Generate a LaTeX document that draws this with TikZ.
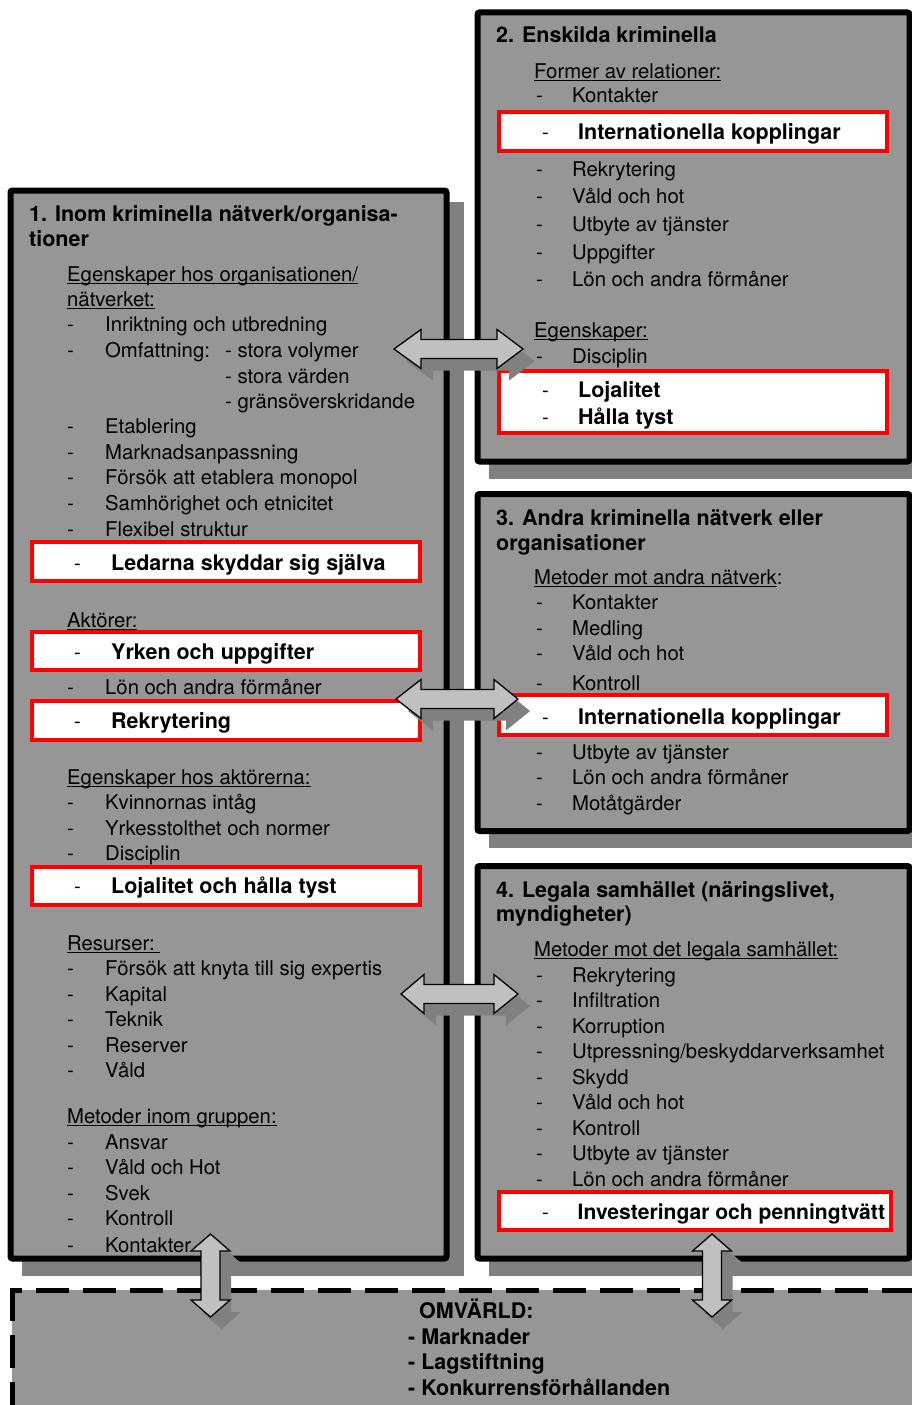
\documentclass[tikz,border=0pt]{standalone}
\usepackage{fontspec}
\setmainfont{TeX Gyre Heros}
\definecolor{boxgray}{RGB}{150,150,150}
\definecolor{shadowgray}{RGB}{128,128,128}
\definecolor{arrowgray}{RGB}{192,192,192}
\definecolor{redline}{RGB}{255,0,0}
\newcommand\ulx[1]{\setbox0\hbox{#1}\rlap{\raisebox{-2.8pt}{\rule{\wd0}{1.3pt}}}\box0}
\newcommand\ent[5]{\node[txt] (#1d) at (#2,#4) {-}; \node[txt] (#1) at (#3,#4) {#5};}
\newcommand\bent[5]{\node[txt] (#1d) at (#2,#4) {-}; \node[btxt] (#1) at (#3,#4) {#5};}
\newcommand\harrow[6]{\path[#1] (#2,#6) -- (#3,#6-19.5) -- (#3,#6-9.5) -- (#4,#6-9.5) -- (#4,#6-19.5) -- (#5,#6) -- (#4,#6+19.5) -- (#4,#6+9.5) -- (#3,#6+9.5) -- (#3,#6+19.5) -- cycle;}
\newcommand\varrow[6]{\path[#1] (#2,#3) -- (#2+19.5,#4) -- (#2+9.5,#4) -- (#2+9.5,#5) -- (#2+19.5,#5) -- (#2,#6) -- (#2-19.5,#5) -- (#2-9.5,#5) -- (#2-9.5,#4) -- (#2-19.5,#4) -- cycle;}
\tikzset{
 txt/.style={anchor=base west, inner sep=0pt, font=\fontsize{20.3pt}{24pt}\selectfont},
 btxt/.style={anchor=base west, inner sep=0pt, font=\fontsize{21.5pt}{25pt}\selectfont\bfseries},
 boxfill/.style={fill=boxgray},
 boxline/.style={draw=black, line width=6pt, rounded corners=2pt},
 boxshadow/.style={fill=shadowgray},
 redbox/.style={draw=redline, fill=white, line width=4pt, inner sep=0pt},
 blockarrow/.style={fill=arrowgray, draw=black, line width=1.3pt, line join=miter},
 arrowshadow/.style={fill=shadowgray},
 envline/.style={draw=black, line width=5pt, dash pattern=on 33pt off 14pt},
}
\begin{document}
\begin{tikzpicture}[x=1pt,y=-1pt]
\useasboundingbox (0,0) rectangle (912,1405);
\clip (0,0) rectangle (912,1405);
\fill[white] (0,0) rectangle (912,1405);
% environment box
\fill[boxfill] (12,1290) rectangle (930,1420);
\draw[envline, dash phase=20.5pt] (9.5,1290) -- (930,1290);
\draw[envline, dash phase=0pt] (12,1287.5) -- (12,1420);
\node[btxt] (env) at (419,1318) {OMVÄRLD:};
\node[btxt] (env1) at (408,1344) {- Marknader};
\node[btxt] (env2) at (408,1369) {- Lagstiftning};
\node[btxt] (env3) at (408,1395) {- Konkurrensförhållanden};
% box shadows
\fill[boxshadow] (21.5,201.5) rectangle (463.5,1275.5);
\fill[boxshadow] (488.5,23.5) rectangle (930,478.5);
\fill[boxshadow] (488.5,505) rectangle (930,848);
\fill[boxshadow] (488.5,877) rectangle (930,1275.5);
% box fills
\fill[boxfill] (10.5,190.5) rectangle (446.5,1258.5);
\fill[boxfill] (477.5,12.5) rectangle (909.5,461.5);
\fill[boxfill] (477.5,494) rectangle (909.5,831);
\fill[boxfill] (477.5,866) rectangle (909.5,1258.5);
% red boxes
\node[redbox, minimum width=388pt, minimum height=39pt] (R1) at (226,561.5) {};
\node[redbox, minimum width=388pt, minimum height=38pt] (R2) at (226,651) {};
\node[redbox, minimum width=388pt, minimum height=39pt] (R3) at (226,720.5) {};
\node[redbox, minimum width=388pt, minimum height=38pt] (R4) at (226,886) {};
\node[redbox, minimum width=388pt, minimum height=39pt] (R5) at (693,131.5) {};
\node[redbox, minimum width=388pt, minimum height=62pt] (R6) at (693,402) {};
\node[redbox, minimum width=388pt, minimum height=40pt] (R7) at (693,715) {};
\node[redbox, minimum width=392pt, minimum height=38pt] (R8) at (695,1211) {};
% box 1 text
\node[btxt] (t1a) at (29,221) {1. Inom kriminella nätverk/organisa-};
\node[btxt] (t1b) at (29,246) {tioner};
\node[txt] (h1a) at (67,281) {\ulx{Egenskaper hos organisationen/}};
\node[txt] (h1b) at (67,306) {\ulx{nätverket:}};
\ent{a1}{67}{105}{331}{Inriktning och utbredning}
\ent{a2}{67}{105}{357}{Omfattning:}
\node[txt] (a2b) at (225,357) {- stora volymer};
\node[txt] (a2c) at (225,383) {- stora värden};
\node[txt] (a2d) at (225,408) {- gränsöverskridande};
\ent{a3}{67}{105}{433}{Etablering}
\ent{a4}{67}{105}{459}{Marknadsanpassning}
\ent{a5}{67}{105}{484}{Försök att etablera monopol}
\ent{a6}{67}{105}{510}{Samhörighet och etnicitet}
\ent{a7}{67}{105}{536}{Flexibel struktur}
\bent{a8}{74}{111}{570}{Ledarna skyddar sig själva}
\node[txt] (h1c) at (67,627) {\ulx{Aktörer:}};
\bent{b1}{74}{111}{659}{Yrken och uppgifter}
\ent{b2}{67}{105}{694}{Lön och andra förmåner}
\bent{b3}{74}{111}{728}{Rekrytering}
\node[txt] (h1d) at (67,784) {\ulx{Egenskaper hos aktörerna:}};
\ent{c1}{67}{105}{809}{Kvinnornas intåg}
\ent{c2}{67}{105}{835}{Yrkesstolthet och normer}
\ent{c3}{67}{105}{860}{Disciplin}
\bent{c4}{74}{111}{893}{Lojalitet och hålla tyst}
\node[txt] (h1e) at (67,950) {\ulx{Resurser:\ }};
\ent{d1}{67}{105}{975}{Försök att knyta till sig expertis}
\ent{d2}{67}{105}{1001}{Kapital}
\ent{d3}{67}{105}{1026}{Teknik}
\ent{d4}{67}{105}{1052}{Reserver}
\ent{d5}{67}{105}{1077}{Våld}
\node[txt] (h1f) at (67,1123) {\ulx{Metoder inom gruppen:}};
\ent{e1}{67}{105}{1149}{Ansvar}
\ent{e2}{67}{105}{1174}{Våld och Hot}
\ent{e3}{67}{105}{1200}{Svek}
\ent{e4}{67}{105}{1225}{Kontroll}
\ent{e5}{67}{105}{1252}{Kontakter}
% box 2 text
\node[btxt] (t2) at (496,43) {2. Enskilda kriminella};
\node[txt] (h2a) at (534,78) {\ulx{Former av relationer:}};
\ent{f1}{536}{572}{102}{Kontakter}
\bent{f2}{542}{578}{139}{Internationella kopplingar}
\ent{f3}{536}{572}{176}{Rekrytering}
\ent{f4}{536}{572}{203}{Våld och hot}
\ent{f5}{536}{572}{231}{Utbyte av tjänster}
\ent{f6}{536}{572}{259}{Uppgifter}
\ent{f7}{536}{572}{286}{Lön och andra förmåner}
\node[txt] (h2b) at (534,337) {\ulx{Egenskaper:}};
\ent{g1}{536}{572}{363}{Disciplin}
\bent{g2}{542}{578}{397}{Lojalitet}
\bent{g3}{542}{578}{424}{Hålla tyst}
% box 3 text
\node[btxt] (t3a) at (496,525) {3. Andra kriminella nätverk eller};
\node[btxt] (t3b) at (496,550) {organisationer};
\node[txt] (h3) at (534,584) {\ulx{Metoder mot andra nätverk}:};
\ent{k1}{536}{572}{609}{Kontakter}
\ent{k2}{536}{572}{635}{Medling}
\ent{k3}{536}{572}{660}{Våld och hot}
\ent{k4}{536}{572}{690}{Kontroll}
\bent{k5}{542}{578}{724}{Internationella kopplingar}
\ent{k6}{536}{572}{759}{Utbyte av tjänster}
\ent{k7}{536}{572}{784}{Lön och andra förmåner}
\ent{k8}{536}{572}{810}{Motåtgärder}
% box 4 text
\node[btxt] (t4a) at (496,897) {4. Legala samhället (näringslivet,};
\node[btxt] (t4b) at (496,921) {myndigheter)};
\node[txt] (h4) at (534,956) {\ulx{Metoder mot det legala samhället:}};
\ent{m1}{536}{572}{982}{Rekrytering}
\ent{m2}{536}{572}{1007}{Infiltration}
\ent{m3}{536}{572}{1033}{Korruption}
\ent{m4}{536}{572}{1058}{Utpressning/beskyddarverksamhet}
\ent{m5}{536}{572}{1084}{Skydd}
\ent{m6}{536}{572}{1109}{Våld och hot}
\ent{m7}{536}{572}{1135}{Kontroll}
\ent{m8}{536}{572}{1160}{Utbyte av tjänster}
\ent{m9}{536}{572}{1186}{Lön och andra förmåner}
\node[txt] (m10d) at (542,1219) {-};
\node[btxt, font=\fontsize{21.1pt}{25pt}\selectfont\bfseries] (m10) at (577.5,1219) {Investeringar och penningtvätt};
% box borders
\draw[boxline] (10.5,190.5) rectangle (446.5,1258.5);
\draw[boxline] (477.5,12.5) rectangle (909.5,461.5);
\draw[boxline] (477.5,494) rectangle (909.5,831);
\draw[boxline] (477.5,866) rectangle (909.5,1258.5);
% block arrows (shadows first)
\harrow{arrowshadow, shift={(12,12)}}{394}{421}{497}{523}{349}
\harrow{arrowshadow, shift={(12,12)}}{396}{421}{494}{518}{699}
\harrow{arrowshadow, shift={(12,12)}}{401}{424}{494}{518}{994}
\varrow{arrowshadow, shift={(11,12)}}{210.5}{1234}{1251}{1300}{1317}
\varrow{arrowshadow, shift={(11,12)}}{712}{1234}{1251}{1300}{1317}
\harrow{blockarrow}{394}{421}{497}{523}{349}
\harrow{blockarrow}{396}{421}{494}{518}{699}
\harrow{blockarrow}{401}{424}{494}{518}{994}
\varrow{blockarrow}{210.5}{1234}{1251}{1300}{1317}
\varrow{blockarrow}{712}{1234}{1251}{1300}{1317}
\end{tikzpicture}
\end{document}
